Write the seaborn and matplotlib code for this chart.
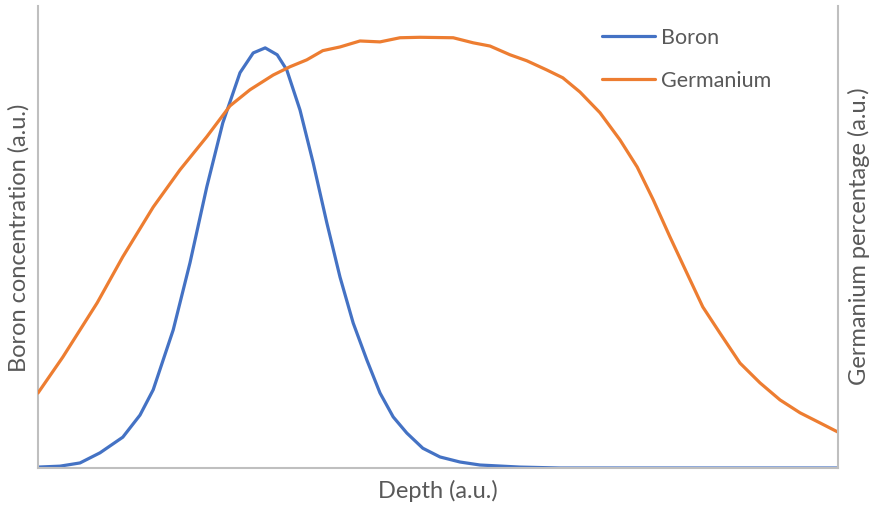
import matplotlib
matplotlib.use("Agg")
import matplotlib.pyplot as plt
import seaborn as sns
import pandas as pd

# Depth (a.u.) 0-100, values (a.u.) 0-100
boron_depth = [0, 2.75, 5.25, 7.75, 10.6, 12.75, 14.4, 16.9, 19.0, 21.1, 23.1, 25.25, 26.9,
               28.4, 29.9, 31.1, 32.75, 34.4, 36.1, 37.75, 39.4, 41.1, 42.75, 44.4, 46.1,
               48.1, 50.25, 52.75, 55.25, 60.25, 65.25, 82.75, 100]
boron_val = [0.2, 0.4, 1.1, 3.3, 6.7, 11.5, 17.0, 30.0, 44.6, 61.1, 75.0, 85.9, 90.2,
             91.3, 89.8, 86.5, 77.8, 66.3, 53.3, 41.5, 31.5, 23.5, 16.3, 11.1, 7.6,
             4.3, 2.4, 1.3, 0.65, 0.2, 0.0, 0.0, 0.0]

germ_depth = [0, 3.1, 7.4, 10.6, 14.4, 17.75, 21.1, 24, 26.5, 29.4, 31.5, 33.6, 35.6,
              37.75, 40.25, 42.75, 45.25, 47.75, 51.9, 54.4, 56.5, 59, 61.1, 63.6, 65.6,
              67.75, 70.25, 72.75, 74.9, 76.9, 79, 81.1, 83.1, 85.25, 87.75, 90.25,
              92.75, 95.25, 97.75, 100]
germ_val = [16.3, 24.1, 35.9, 45.9, 56.7, 64.8, 72.0, 78.7, 82.2, 85.4, 87.2, 88.7, 90.7,
            91.5, 92.8, 92.6, 93.5, 93.6, 93.5, 92.4, 91.7, 89.8, 88.5, 86.5, 84.8,
            81.7, 77.2, 71.3, 65.4, 58.3, 50.2, 42.4, 35.0, 29.3, 22.8, 18.5,
            14.8, 12.0, 9.8, 7.8]

df_b = pd.DataFrame({"Depth": boron_depth, "Value": boron_val})
df_g = pd.DataFrame({"Depth": germ_depth, "Value": germ_val})

sns.set_style("white")
plt.rcParams['font.family'] = ['Lato', 'DejaVu Sans']

W, H = 872, 508
fig = plt.figure(figsize=(W / 100, H / 100), dpi=100)
ax = fig.add_axes([38 / W, (H - 468) / H, 800 / W, (468 - 6) / H])
ax2 = ax.twinx()

blue = "#4472C4"
orange = "#ED7D31"
grey_txt = "#595959"
axis_col = "#BFBFBF"

sns.lineplot(data=df_b, x="Depth", y="Value", ax=ax, color=blue, linewidth=2.3,
             label="Boron", legend=False, solid_joinstyle="round", solid_capstyle="round")
sns.lineplot(data=df_g, x="Depth", y="Value", ax=ax2, color=orange, linewidth=2.3,
             label="Germanium", legend=False, solid_joinstyle="round", solid_capstyle="round")

for a in (ax, ax2):
    a.set_xlim(0, 100)
    a.set_ylim(0, 100.4)
    a.set_xticks([])
    a.set_yticks([])
    for s in a.spines.values():
        s.set_visible(False)

ax.spines["left"].set_visible(True)
ax.spines["bottom"].set_visible(True)
ax2.spines["right"].set_visible(True)
for s in (ax.spines["left"], ax.spines["bottom"], ax2.spines["right"]):
    s.set_color(axis_col)
    s.set_linewidth(1.5)

fs = 17
ax.set_xlabel("Depth (a.u.)", fontsize=fs, color=grey_txt)
ax.set_ylabel("Boron concentration (a.u.)", fontsize=fs, color=grey_txt)
ax2.set_ylabel("Germanium percentage (a.u.)", fontsize=fs, color=grey_txt, rotation=90)
# place labels in figure pixels
ax.xaxis.set_label_coords(438 / W, 1 - 491 / H, transform=fig.transFigure)
ax.yaxis.set_label_coords(19 / W, 1 - 238 / H, transform=fig.transFigure)
ax2.yaxis.set_label_coords(859 / W, 1 - 236 / H, transform=fig.transFigure)
for lab in (ax.xaxis.label, ax.yaxis.label, ax2.yaxis.label):
    lab.set_va("center")
    lab.set_ha("center")

h1, lb1 = ax.get_legend_handles_labels()
h2, lb2 = ax2.get_legend_handles_labels()
leg = fig.legend(h1 + h2, lb1 + lb2, loc="upper left",
                 bbox_to_anchor=(602 / W, 1 - 28 / H), bbox_transform=fig.transFigure,
                 frameon=False, fontsize=15.5, handlelength=2.45, handletextpad=0.3,
                 labelspacing=1.05, borderpad=0, borderaxespad=0)
for t in leg.get_texts():
    t.set_color(grey_txt)

fig.savefig("out.png", dpi=100)
